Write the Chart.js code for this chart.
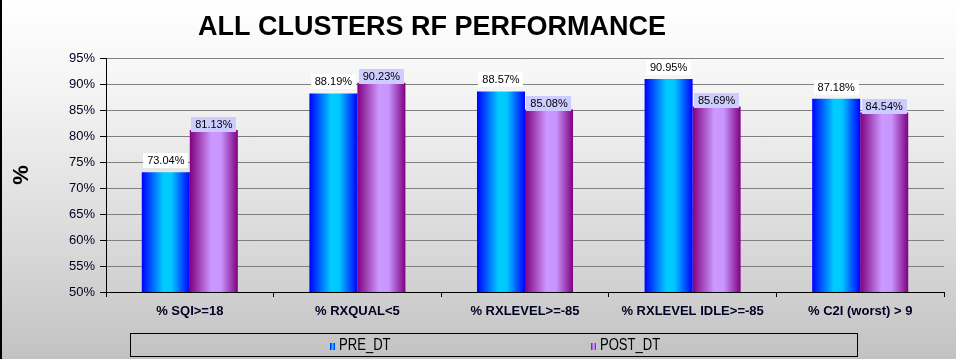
<!DOCTYPE html>
<html>
<head>
<meta charset="utf-8">
<script src="https://cdn.jsdelivr.net/npm/chart.js@4.4.0/dist/chart.umd.min.js"></script>
<style>
  html, body { margin: 0; padding: 0; }
  body { width: 956px; height: 359px; overflow: hidden; }
  #wrap { position: relative; width: 956px; height: 359px;
          background: linear-gradient(to bottom, #ffffff 0%, #f4f4f4 25%, #d8d8d8 70%, #c2c2c2 100%); }
  canvas { display: block; }
</style>
</head>
<body>
<div id="wrap"><canvas id="c" width="956" height="359"></canvas></div>
<script>
const chartTitle = 'ALL CLUSTERS RF PERFORMANCE';
const yAxisTitle = '%';
const categories = ['% SQI>=18', '% RXQUAL<5', '% RXLEVEL>=-85', '% RXLEVEL IDLE>=-85', '% C2I (worst) > 9'];
const seriesNames = ['PRE_DT', 'POST_DT'];
const preValues = [73.04, 88.19, 88.57, 90.95, 87.18];
const postValues = [81.13, 90.23, 85.08, 85.69, 84.54];
const yMin = 50, yMax = 95, yStep = 5;

const SANS = '"Liberation Sans", Arial, sans-serif';
const NARROW = '"Liberation Sans Narrow", "Arial Narrow", "Liberation Sans", sans-serif';

const gradStops = [
  [[0, '#0000ff'], [0.45, '#00ccff'], [0.62, '#00c8ff'], [1, '#0000ff']],
  [[0, '#800080'], [0.45, '#cc99ff'], [0.65, '#c895ff'], [1, '#800080']]
];
const labelBg = ['#ffffff', '#ccccff'];
const labelOffset = [-11.5, -6];

function makeGrad(ctx, x0, x1, stops) {
  const g = ctx.createLinearGradient(x0, 0, x1, 0);
  stops.forEach(s => g.addColorStop(s[0], s[1]));
  return g;
}

const gradientPlugin = {
  id: 'barGradient',
  beforeDatasetsDraw(chart) {
    const ctx = chart.ctx;
    chart.data.datasets.forEach((ds, di) => {
      const meta = chart.getDatasetMeta(di);
      meta.data.forEach(el => {
        const x0 = el.x - el.width / 2, x1 = el.x + el.width / 2;
        el.options = Object.assign({}, el.options, { backgroundColor: makeGrad(ctx, x0, x1, gradStops[di]) });
      });
    });
  }
};

const labelPlugin = {
  id: 'valueLabels',
  afterDatasetsDraw(chart) {
    const ctx = chart.ctx;
    ctx.save();
    ctx.font = '11px ' + SANS;
    ctx.textAlign = 'center';
    ctx.textBaseline = 'middle';
    chart.data.datasets.forEach((ds, di) => {
      const meta = chart.getDatasetMeta(di);
      meta.data.forEach((el, i) => {
        const txt = ds.data[i].toFixed(2) + '%';
        const w = ctx.measureText(txt).width + 8;
        const h = 15;
        const cy = el.y + labelOffset[di];
        ctx.fillStyle = labelBg[di];
        ctx.fillRect(Math.round(el.x - w / 2), Math.round(cy - h / 2), Math.round(w), h);
        ctx.fillStyle = '#000000';
        ctx.fillText(txt, el.x, cy + 0.5);
      });
    });
    ctx.restore();
  }
};

const decorPlugin = {
  id: 'decor',
  afterDraw(chart) {
    const ctx = chart.ctx;
    ctx.save();
    // left border
    ctx.fillStyle = '#000000';
    ctx.fillRect(0, 0, 2, 359);
    // title
    ctx.font = 'bold 27px ' + SANS;
    ctx.textAlign = 'center';
    ctx.textBaseline = 'alphabetic';
    ctx.fillStyle = '#000000';
    ctx.fillText(chartTitle, 432, 35);
    // legend box
    ctx.strokeStyle = '#000000';
    ctx.lineWidth = 1;
    ctx.strokeRect(130.5, 333.5, 727, 23);
    // legend items
    const itemX = [330, 591];
    ctx.font = '16px ' + NARROW;
    ctx.textAlign = 'left';
    ctx.textBaseline = 'middle';
    seriesNames.forEach((name, i) => {
      const mx = itemX[i];
      ctx.fillStyle = makeGrad(ctx, mx, mx + 5, gradStops[i]);
      ctx.fillRect(mx, 343, 5, 7);
      ctx.fillStyle = '#000000';
      const tw = ctx.measureText(name).width;
      const target = name.length * 8.6;
      ctx.save();
      ctx.translate(mx + 9, 346);
      if (tw > target * 1.1) ctx.scale(target / tw, 1);
      ctx.fillText(name, 0, 0);
      ctx.restore();
    });
    ctx.restore();
  }
};

new Chart(document.getElementById('c'), {
  type: 'bar',
  data: {
    labels: categories,
    datasets: [
      { label: seriesNames[0], data: preValues, backgroundColor: '#00ccff', borderWidth: 0 },
      { label: seriesNames[1], data: postValues, backgroundColor: '#cc99ff', borderWidth: 0 }
    ]
  },
  options: {
    responsive: false,
    animation: false,
    events: [],
    layout: { padding: { top: 58, right: 12, bottom: 37, left: 0 } },
    datasets: { bar: { categoryPercentage: 0.573, barPercentage: 1.0 } },
    plugins: {
      legend: { display: false },
      title: { display: false },
      tooltip: { enabled: false }
    },
    scales: {
      x: {
        grid: { display: true, drawOnChartArea: false, drawTicks: true, tickLength: 5, color: '#000000', offset: true },
        border: { display: true, color: '#000000', width: 1 },
        ticks: { color: '#000022', font: { family: SANS, size: 13, weight: 'bold' }, padding: 7, maxRotation: 0, autoSkip: false },
        afterFit(scale) { scale.height = 30; }
      },
      y: {
        min: yMin, max: yMax,
        grid: { color: '#808080', lineWidth: 1, drawTicks: true, tickLength: 6, tickColor: '#000000' },
        border: { display: true, color: '#000000', width: 1 },
        ticks: {
          stepSize: yStep, color: '#000022', padding: 5,
          font: { family: SANS, size: 13 },
          callback: v => v + '%'
        },
        title: { display: true, text: yAxisTitle, color: '#000000', font: { family: SANS, size: 22, weight: 'bold' }, padding: { top: 9, bottom: 0 } },
        afterFit(scale) { scale.width = 106; }
      }
    }
  },
  plugins: [gradientPlugin, labelPlugin, decorPlugin]
});
</script>
</body>
</html>
